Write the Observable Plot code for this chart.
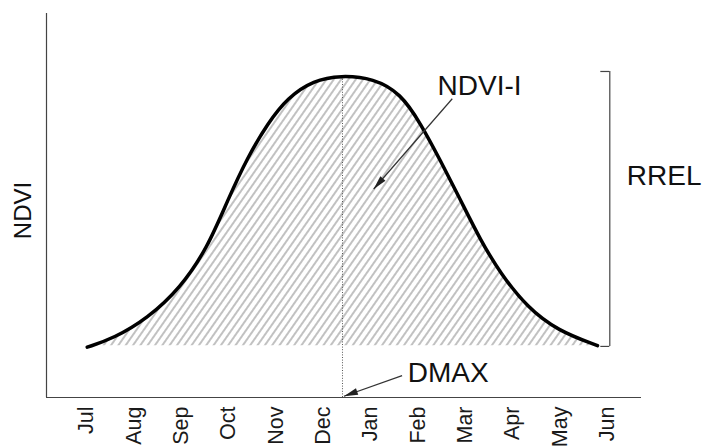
<!DOCTYPE html>
<html><head><meta charset="utf-8">
<script src="https://cdn.jsdelivr.net/npm/d3@7"></script>
<script src="https://cdn.jsdelivr.net/npm/@observablehq/plot@0.6"></script>
<style>html,body{margin:0;padding:0;background:#fff;overflow:hidden}svg{display:block}</style>
</head><body><div id="chart"></div>
<script>
// Month tick labels (0 = Jul ... 11 = Jun)
const months = ["Jul","Aug","Sep","Oct","Nov","Dec","Jan","Feb","Mar","Apr","May","Jun"];
// NDVI seasonal curve (x in month units from Jul)
const curveMonth = [0.015,0.571,1.29,1.99,2.56,2.98,3.40,3.83,4.25,4.80,5.37,6.07,6.64,7.06,7.48,7.91,8.33,8.75,9.32,9.96,10.80];
const curveNdvi  = [0.131,0.154,0.206,0.286,0.391,0.513,0.625,0.714,0.781,0.826,0.839,0.831,0.792,0.714,0.617,0.513,0.409,0.323,0.234,0.174,0.135];
// Key values
const baseNdvi = 0.135;   // base level of integrated area
const dmax = 5.41;        // date of maximum NDVI
const peakNdvi = 0.839;   // maximum NDVI
const rrelTop = 0.849, rrelBottom = 0.133;
// Annotation labels
const labels = ["NDVI-I", "RREL", "DMAX"];

const curve = curveMonth.map((m, i) => ({m, v: curveNdvi[i]}));
const xMin = -0.846, xMax = 11.73;
const arrows = [
  {x1: 7.73, y1: 0.778, x2: 6.07, y2: 0.543, angle: 221},
  {x1: 6.67, y1: 0.057, x2: 5.44, y2: 0.0034, angle: 250.5}
];
const head = {draw(ctx, l) { ctx.moveTo(0, -l); ctx.lineTo(-3.4, 0); ctx.lineTo(3.4, 0); ctx.closePath(); }};

const svg = Plot.plot({
  width: 703, height: 446,
  marginLeft: 46, marginRight: 62, marginTop: 13, marginBottom: 49,
  style: {fontFamily: "'Liberation Sans', Arial, sans-serif", color: "#1a1a1a", background: "#fff"},
  x: {domain: [xMin, xMax], axis: null},
  y: {domain: [0, 1], axis: null},
  marks: [
    Plot.areaY(curve, {x: "m", y1: baseNdvi, y2: "v", fill: "url(#hatch)", curve: "basis"}),
    Plot.ruleX([dmax], {y1: 0, y2: peakNdvi, stroke: "#555", strokeWidth: 1, strokeDasharray: "1,1.6"}),
    Plot.line(curve, {x: "m", y: "v", stroke: "#000", strokeWidth: 3.5, curve: "basis"}),
    Plot.ruleX([xMin], {stroke: "#444", strokeWidth: 1.2}),
    Plot.ruleY([0], {x1: xMin, x2: xMax, stroke: "#444", strokeWidth: 1.2}),
    Plot.axisX(d3.range(12), {tickFormat: i => months[i], tickRotate: -90, tickSize: 0, tickPadding: 9, fontSize: 21.5, label: null}),
    // RREL bracket
    Plot.ruleX([11.06], {y1: rrelBottom, y2: rrelTop, stroke: "#444", strokeWidth: 1.2}),
    Plot.ruleY([rrelTop, rrelBottom], {x1: 10.87, x2: 11.06, stroke: "#444", strokeWidth: 1.2}),
    // arrows
    Plot.link(arrows, {x1: "x1", y1: "y1", x2: "x2", y2: "y2", stroke: "#333", strokeWidth: 1.2}),
    Plot.vector(arrows, {x: "x2", y: "y2", rotate: "angle", length: 14, anchor: "end", shape: head, fill: "#222", stroke: "none"}),
    // texts
    Plot.text([labels[0]], {x: 7.42, y: 0.81, text: d => d, textAnchor: "start", fontSize: 28, fill: "#111"}),
    Plot.text([labels[1]], {x: 11.42, y: 0.577, text: d => d, textAnchor: "start", fontSize: 28, fill: "#111"}),
    Plot.text([labels[2]], {x: 6.79, y: 0.0625, text: d => d, textAnchor: "start", fontSize: 28, fill: "#111"}),
    Plot.text(["NDVI"], {x: -1.33, y: 0.487, text: d => d, rotate: -90, fontSize: 24, fill: "#111"})
  ]
});

const ns = "http://www.w3.org/2000/svg";
const defs = document.createElementNS(ns, "defs");
const pat = document.createElementNS(ns, "pattern");
pat.setAttribute("id", "hatch");
pat.setAttribute("patternUnits", "userSpaceOnUse");
pat.setAttribute("width", "6");
pat.setAttribute("height", "6");
pat.setAttribute("patternTransform", "rotate(35)");
const ln = document.createElementNS(ns, "line");
ln.setAttribute("x1", "1"); ln.setAttribute("y1", "0");
ln.setAttribute("x2", "1"); ln.setAttribute("y2", "6");
ln.setAttribute("stroke", "#a0a0a0");
ln.setAttribute("stroke-width", "1.3");
pat.appendChild(ln);
defs.appendChild(pat);
svg.insertBefore(defs, svg.firstChild);
document.getElementById("chart").appendChild(svg);
</script>
</body></html>
